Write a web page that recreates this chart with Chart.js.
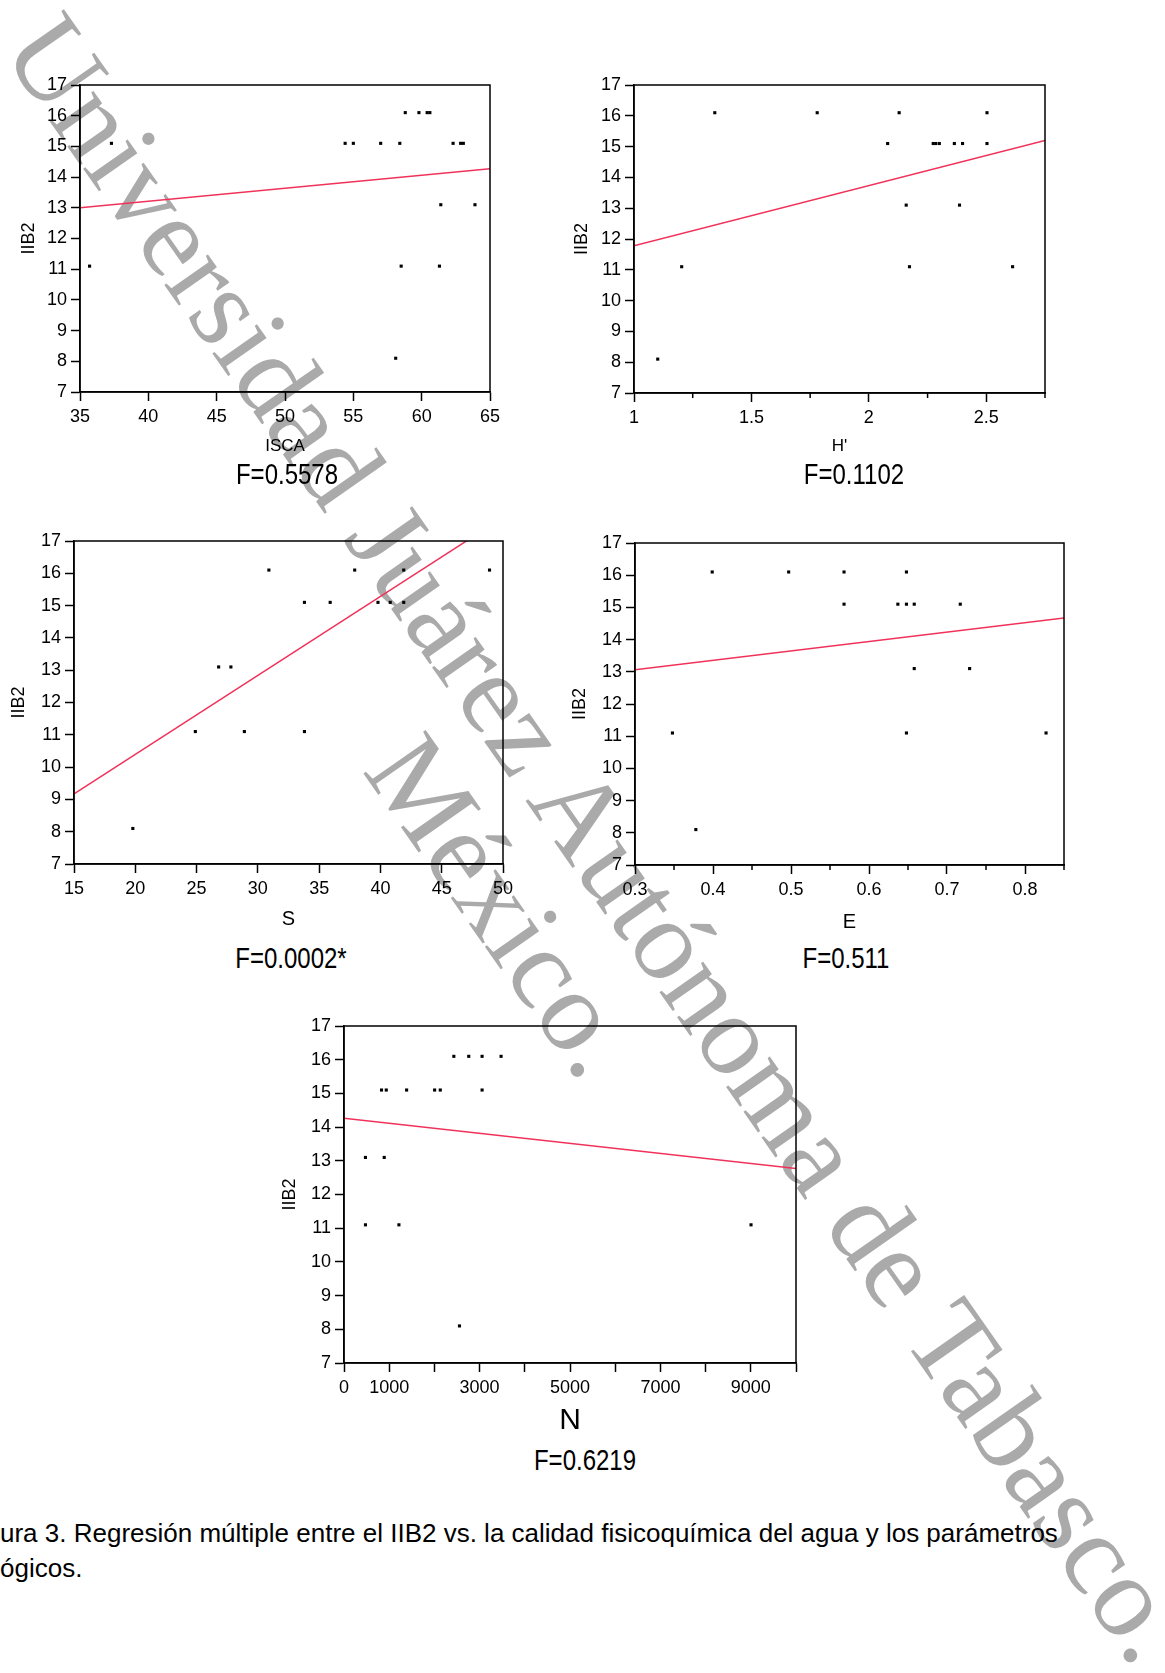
<!DOCTYPE html>
<html lang="es">
<head>
<meta charset="UTF-8" />
<title>Regresión múltiple IIB2</title>
<script src="https://cdn.jsdelivr.net/npm/chart.js"></script>
<style>
    html, body { margin: 0; padding: 0; background: #fff; }
    body {
        position: relative;
        width: 1165px;
        height: 1673px;
        overflow: hidden;
        font-family: "Liberation Sans", Arial, sans-serif;
        color: #000;
    }
    .panel { position: absolute; z-index: 2; }
    .flabel {
        position: absolute;
        z-index: 2;
        font-size: 30px;
        line-height: 30px;
        white-space: nowrap;
        transform: translate(-50%, -50%) scaleX(0.8);
    }
    .caption {
        position: absolute;
        left: 0;
        top: 1516px;
        z-index: 2;
        font-size: 26px;
        line-height: 35px;
        white-space: nowrap;
    }
    .watermark {
        position: absolute;
        left: 551px;
        top: 872px;
        z-index: 1;
        font-family: "Liberation Serif", "Times New Roman", serif;
        font-size: 116px;
        line-height: 117px;
        color: #aaa;
        text-align: center;
        white-space: nowrap;
        transform: translate(-50%, -50%) rotate(55deg);
    }
</style>
</head>
<body>
<div class="watermark">Universidad Juárez Autónoma de Tabasco.<br>México.</div>
<div id="charts"></div>
<div class="caption">ura 3. Regresión múltiple entre el IIB2 vs. la calidad fisicoquímica del agua y los parámetros<br>ógicos.</div>

<script>
// shared y axis (IIB2)
const yTicks = [7, 8, 9, 10, 11, 12, 13, 14, 15, 16, 17];

// ISCA
const iscaX = [37.3, 35.7, 54.4, 55.0, 57.0, 58.4, 62.3, 62.85, 63.05, 58.8, 59.8, 60.4, 60.6, 61.4, 63.9, 58.5, 61.3, 58.1];
const iscaY = [15.1, 11.1, 15.1, 15.1, 15.1, 15.1, 15.1, 15.1, 15.1, 16.1, 16.1, 16.1, 16.1, 13.1, 13.1, 11.1, 11.1, 8.1];
const iscaFitX = [35, 65];
const iscaFitY = [13.0, 14.27];
const iscaTicks = [35, 40, 45, 50, 55, 60, 65];

// H'
const hX = [1.344, 1.78, 2.129, 2.503, 2.08, 2.274, 2.285, 2.3, 2.364, 2.399, 2.503, 2.159, 2.386, 1.203, 2.173, 2.612, 1.101];
const hY = [16.1, 16.1, 16.1, 16.1, 15.1, 15.1, 15.1, 15.1, 15.1, 15.1, 15.1, 13.1, 13.1, 11.1, 11.1, 11.1, 8.1];
const hFitX = [1, 2.75];
const hFitY = [11.78, 15.2];
const hTicks = [1, 1.5, 2, 2.5];
const hMinor = [1.25, 1.75, 2.25, 2.75];

// S
const sX = [30.9, 37.9, 41.9, 48.9, 33.8, 35.9, 39.8, 40.8, 41.9, 26.8, 27.8, 24.9, 28.9, 33.8, 19.8];
const sY = [16.1, 16.1, 16.1, 16.1, 15.1, 15.1, 15.1, 15.1, 15.1, 13.1, 13.1, 11.1, 11.1, 11.1, 8.1];
const sFitX = [15, 50];
const sFitY = [9.17, 17.73];
const sTicks = [15, 20, 25, 30, 35, 40, 45, 50];

// E
const eX = [0.399, 0.497, 0.568, 0.648, 0.568, 0.637, 0.648, 0.658, 0.717, 0.658, 0.729, 0.348, 0.648, 0.827, 0.378];
const eY = [16.1, 16.1, 16.1, 16.1, 15.1, 15.1, 15.1, 15.1, 15.1, 13.1, 13.1, 11.1, 11.1, 11.1, 8.1];
const eFitX = [0.3, 0.85];
const eFitY = [13.06, 14.67];
const eTicks = [0.3, 0.4, 0.5, 0.6, 0.7, 0.8];
const eMinor = [0.35, 0.45, 0.55, 0.65, 0.75, 0.85];

// N
const nX = [2430, 2760, 3055, 3475, 830, 935, 1385, 2005, 2130, 3055, 475, 890, 475, 1215, 9005, 2555];
const nY = [16.1, 16.1, 16.1, 16.1, 15.1, 15.1, 15.1, 15.1, 15.1, 15.1, 13.1, 13.1, 11.1, 11.1, 11.1, 8.1];
const nFitX = [0, 10000];
const nFitY = [14.26, 12.77];
const nTicks = [0, 1000, 2000, 3000, 4000, 5000, 6000, 7000, 8000, 9000, 10000];
const nLabels = [0, 1000, 3000, 5000, 7000, 9000];

const fValues = ["F=0.5578", "F=0.1102", "F=0.0002*", "F=0.511", "F=0.6219"];

const RED = "#f0325a";
const YAXIS_W = 66, PAD_TOP = 14, PAD_RIGHT = 25;

Chart.defaults.font.family = "'Liberation Sans', Arial, sans-serif";
Chart.defaults.color = "#000";

// draws the closed box and the short minor ticks
const frame = {
    id: "frame",
    afterDatasetsDraw(chart, args, opts) {
        const { ctx, chartArea: a, scales: { x } } = chart;
        ctx.save();
        ctx.strokeStyle = "#000";
        ctx.lineWidth = 1.5;
        ctx.strokeRect(a.left, a.top, a.right - a.left, a.bottom - a.top);
        (opts.minor || []).forEach(v => {
            const px = x.getPixelForValue(v);
            ctx.beginPath();
            ctx.moveTo(px, a.bottom);
            ctx.lineTo(px, a.bottom + 5);
            ctx.stroke();
        });
        ctx.restore();
    }
};

const panels = [
    { l: 80, t: 85, w: 410, h: 307, xh: 70, x: iscaX, y: iscaY, fitX: iscaFitX, fitY: iscaFitY,
      xTicks: iscaTicks, xLabels: iscaTicks, min: 35, max: 65, xTitle: "ISCA", xSize: 17, xFamily: null,
      xPad: 5.8, yPad: 4.2, f: fValues[0], fx: 287, fy: 474 },
    { l: 634, t: 85, w: 411, h: 308, xh: 70, x: hX, y: hY, fitX: hFitX, fitY: hFitY,
      xTicks: hTicks, xLabels: hTicks, minor: hMinor, min: 1, max: 2.75, xTitle: "H'", xSize: 17, xFamily: null,
      xPad: 6.8, yPad: 3.2, f: fValues[1], fx: 854, fy: 474 },
    { l: 74, t: 541, w: 429, h: 323, xh: 70, x: sX, y: sY, fitX: sFitX, fitY: sFitY,
      xTicks: sTicks, xLabels: sTicks, min: 15, max: 50, xTitle: "S", xSize: 20, xFamily: "'Liberation Sans Narrow', 'Liberation Sans'",
      xPad: 3, yPad: 0.2, f: fValues[2], fx: 291, fy: 958 },
    { l: 635, t: 543, w: 429, h: 322, xh: 70, x: eX, y: eY, fitX: eFitX, fitY: eFitY,
      xTicks: eTicks, xLabels: eTicks, minor: eMinor, min: 0.3, max: 0.85, xTitle: "E", xSize: 20, xFamily: "'Liberation Sans Narrow', 'Liberation Sans'",
      xPad: 1, yPad: 0, f: fValues[3], fx: 846, fy: 958 },
    { l: 344, t: 1026, w: 452, h: 337, xh: 80, x: nX, y: nY, fitX: nFitX, fitY: nFitY,
      xTicks: nTicks, xLabels: nLabels, min: 0, max: 10000, xTitle: "N", xSize: 30, xFamily: "'Liberation Sans Narrow', 'Liberation Sans'",
      xPad: 4, yPad: 1.2, f: fValues[4], fx: 585, fy: 1460 }
];

const holder = document.getElementById("charts");

panels.forEach(p => {
    const wrap = document.createElement("div");
    wrap.className = "panel";
    wrap.style.left = (p.l - YAXIS_W) + "px";
    wrap.style.top = (p.t - PAD_TOP) + "px";
    const canvas = document.createElement("canvas");
    canvas.width = YAXIS_W + p.w + PAD_RIGHT;
    canvas.height = PAD_TOP + p.h + p.xh;
    wrap.appendChild(canvas);
    holder.appendChild(wrap);

    const lbl = document.createElement("div");
    lbl.className = "flabel";
    lbl.style.left = p.fx + "px";
    lbl.style.top = p.fy + "px";
    lbl.textContent = p.f;
    document.body.appendChild(lbl);

    const xTitleFont = { size: p.xSize };
    if (p.xFamily) xTitleFont.family = p.xFamily;

    new Chart(canvas, {
        type: "scatter",
        data: {
            datasets: [
                {
                    data: p.fitX.map((v, i) => ({ x: v, y: p.fitY[i] })),
                    showLine: true,
                    borderColor: RED,
                    borderWidth: 1.5,
                    pointRadius: 0
                },
                {
                    data: p.x.map((v, i) => ({ x: v, y: p.y[i] })),
                    pointStyle: "rect",
                    pointRadius: 2.2,
                    backgroundColor: "#000",
                    borderWidth: 0
                }
            ]
        },
        options: {
            responsive: false,
            animation: false,
            events: [],
            layout: { padding: { top: PAD_TOP, right: PAD_RIGHT, left: 0, bottom: 0 } },
            plugins: {
                legend: { display: false },
                tooltip: { enabled: false },
                frame: { minor: p.minor || [] }
            },
            scales: {
                x: {
                    type: "linear",
                    min: p.min,
                    max: p.max,
                    afterBuildTicks: s => { s.ticks = p.xTicks.map(v => ({ value: v })); },
                    afterFit: s => {
                        s.height = p.xh;
                        s.paddingLeft = s.paddingRight = s.paddingTop = s.paddingBottom = 0;
                    },
                    ticks: {
                        autoSkip: false,
                        maxRotation: 0,
                        padding: 5,
                        color: "#000",
                        font: { size: 18 },
                        callback: v => p.xLabels.includes(v) ? String(v) : ""
                    },
                    grid: { drawOnChartArea: false, tickLength: 9, tickWidth: 1.5, tickColor: "#000" },
                    border: { display: true, color: "#000", width: 1.5 },
                    title: {
                        display: true,
                        text: p.xTitle,
                        color: "#000",
                        font: xTitleFont,
                        padding: { top: 0, bottom: p.xPad }
                    }
                },
                y: {
                    type: "linear",
                    min: 7,
                    max: 17,
                    afterBuildTicks: s => { s.ticks = yTicks.map(v => ({ value: v })); },
                    afterFit: s => {
                        s.width = YAXIS_W;
                        s.paddingLeft = s.paddingRight = s.paddingTop = s.paddingBottom = 0;
                    },
                    ticks: {
                        autoSkip: false,
                        padding: 4,
                        color: "#000",
                        font: { size: 18 },
                        callback: v => String(v)
                    },
                    grid: { drawOnChartArea: false, tickLength: 9, tickWidth: 1.5, tickColor: "#000" },
                    border: { display: true, color: "#000", width: 1.5 },
                    title: {
                        display: true,
                        text: "IIB2",
                        color: "#000",
                        font: { size: 18 },
                        padding: { top: p.yPad, bottom: 0 }
                    }
                }
            }
        },
        plugins: [frame]
    });
});
</script>
</body>
</html>
